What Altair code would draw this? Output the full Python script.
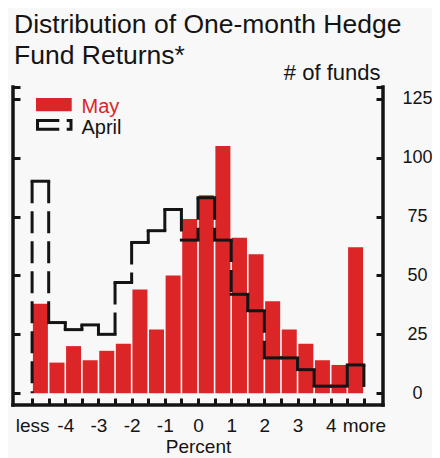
import altair as alt
import pandas as pd

# ---- data ----
edges = [-5.0, -4.5, -4.0, -3.5, -3.0, -2.5, -2.0, -1.5, -1.0, -0.5, 0.0,
         0.5, 1.0, 1.5, 2.0, 2.5, 3.0, 3.5, 4.0, 4.5, 5.0]
may = [38, 13, 20, 14, 18, 21, 44, 27, 50, 74, 84, 105, 66, 59, 39, 27, 21, 14, 12, 62]
april = [90, 30, 27, 29, 25, 47, 64, 69, 78, 65, 83, 65, 42, 35, 15, 15, 10, 3, 3, 12]
y_ticks = [0, 25, 50, 75, 100, 125, 130]

title_lines = ["Distribution of One-month Hedge", "Fund Returns*"]
y_title = "# of funds"
x_title = "Percent"
legend_names = ["May", "April"]

# ---- styling ----
FONT = "Liberation Sans"
INK = "#141414"
RED = "#dc2527"
BG = "#f8f8f8"
W, H = 370, 318

mids = [(a + b) / 2 for a, b in zip(edges[:-1], edges[1:])]
bars_df = pd.DataFrame({"mid": mids, "may": may})
h_df = pd.DataFrame({"x0": edges[:-1], "x1": edges[1:], "val": april})
prev_v = [0] + april
next_v = april + [0]
v_df = pd.DataFrame({
    "edge": edges,
    "top": [max(a, b) for a, b in zip(prev_v, next_v)],
    "bot": [min(a, b) for a, b in zip(prev_v, next_v)],
})
one = pd.DataFrame({"k": [0]})

xscale = alt.Scale(domain=[-5.425, 5.425], nice=False, zero=False)
yscale = alt.Scale(domain=[-5, 130], nice=False, zero=False)

x_axis = alt.Axis(
    orient="bottom", values=edges, offset=-7, tickSize=7, tickWidth=3, tickColor=INK,
    domain=False, grid=False, labelOverlap=False, labelFlush=False,
    labelExpr="datum.value <= -5 ? 'less' : datum.value >= 5 ? 'more' : (datum.value % 1 == 0 ? '' + datum.value : '')",
    labelBaseline="alphabetic", labelPadding=26, labelFont=FONT, labelFontSize=19, labelColor=INK,
    title=x_title, titleX=W / 2, titleY=54, titleAlign="center", titleBaseline="alphabetic",
    titleFont=FONT, titleFontSize=19, titleFontWeight="normal", titleColor=INK,
)
right_axis = alt.Axis(
    orient="right", values=y_ticks, offset=-7, tickSize=7, tickWidth=3, tickColor=INK,
    domain=False, grid=False, labelOverlap=False, labelFlush=False,
    labelExpr="datum.value > 125 ? '' : datum.label",
    labelAlign="center", labelPadding=34, labelFont=FONT, labelFontSize=18, labelColor=INK,
    title=y_title, titleAngle=0, titleX=4, titleY=-8, titleAlign="right", titleBaseline="alphabetic",
    titleFont=FONT, titleFontSize=22, titleFontWeight="normal", titleColor=INK,
)
left_axis = alt.Axis(
    orient="left", values=y_ticks, offset=-7, tickSize=7, tickWidth=3, tickColor=INK,
    domain=False, grid=False, labels=False, title=None,
)

bars = alt.Chart(bars_df).mark_bar(color=RED, size=15).encode(
    x=alt.X("mid:Q", scale=xscale, axis=x_axis),
    y=alt.Y("may:Q", scale=yscale, axis=right_axis),
    y2=alt.datum(0),
)

step_h = alt.Chart(h_df).mark_rule(color=INK, strokeWidth=3, strokeCap="square").encode(
    x=alt.X("x0:Q", scale=xscale, axis=None),
    x2="x1:Q",
    y=alt.Y("val:Q", scale=yscale, axis=left_axis),
)
step_v = alt.Chart(v_df).mark_rule(color=INK, strokeWidth=3, strokeDash=[22, 8]).encode(
    x=alt.X("edge:Q", scale=xscale, axis=None),
    y=alt.Y("top:Q", scale=yscale, axis=None),
    y2="bot:Q",
)

frame_left = alt.Chart(one).mark_rule(color=INK, strokeWidth=3.5, strokeCap="square").encode(
    x=alt.value(0), y=alt.value(0), y2=alt.value(H))
frame_right = alt.Chart(one).mark_rule(color=INK, strokeWidth=3.5, strokeCap="square").encode(
    x=alt.value(W), y=alt.value(0), y2=alt.value(H))
frame_bottom = alt.Chart(one).mark_rule(color=INK, strokeWidth=3.5, strokeCap="square").encode(
    x=alt.value(0), x2=alt.value(W), y=alt.value(H))

leg_may = alt.Chart(one).mark_rect(color=RED).encode(
    x=alt.value(23), x2=alt.value(58.7), y=alt.value(11), y2=alt.value(24.3))
leg_apr = alt.Chart(one).mark_rect(
    stroke=INK, strokeWidth=3, fillOpacity=0, strokeDash=[21.8, 7.4, 17.3, 7.4, 30.5]
).encode(x=alt.value(24.5), x2=alt.value(58), y=alt.value(33.5), y2=alt.value(42.2))
leg_may_t = alt.Chart(one).mark_text(
    align="left", baseline="alphabetic", font=FONT, fontSize=20, color=RED
).encode(x=alt.value(68.5), y=alt.value(26), text=alt.value(legend_names[0]))
leg_apr_t = alt.Chart(one).mark_text(
    align="left", baseline="alphabetic", font=FONT, fontSize=20, color=INK
).encode(x=alt.value(68.5), y=alt.value(46.5), text=alt.value(legend_names[1]))

title = alt.Chart(one).mark_text(
    align="left", baseline="alphabetic", font=FONT, fontSize=26.5, lineHeight=31, color=INK
).encode(x=alt.value(1), y=alt.value(-54), text=alt.value(title_lines))

chart = alt.layer(
    bars, step_h, step_v, frame_left, frame_right, frame_bottom,
    leg_may, leg_apr, leg_may_t, leg_apr_t, title,
).resolve_axis(y="independent", x="independent").properties(
    width=W, height=H,
    autosize=alt.AutoSizeParams(type="none"),
    padding={"left": 5, "top": 79, "right": 49, "bottom": 53},
    background=BG,
).configure_view(stroke=None)

chart.save("out.html", embed_options={"renderer": "svg", "actions": False})
